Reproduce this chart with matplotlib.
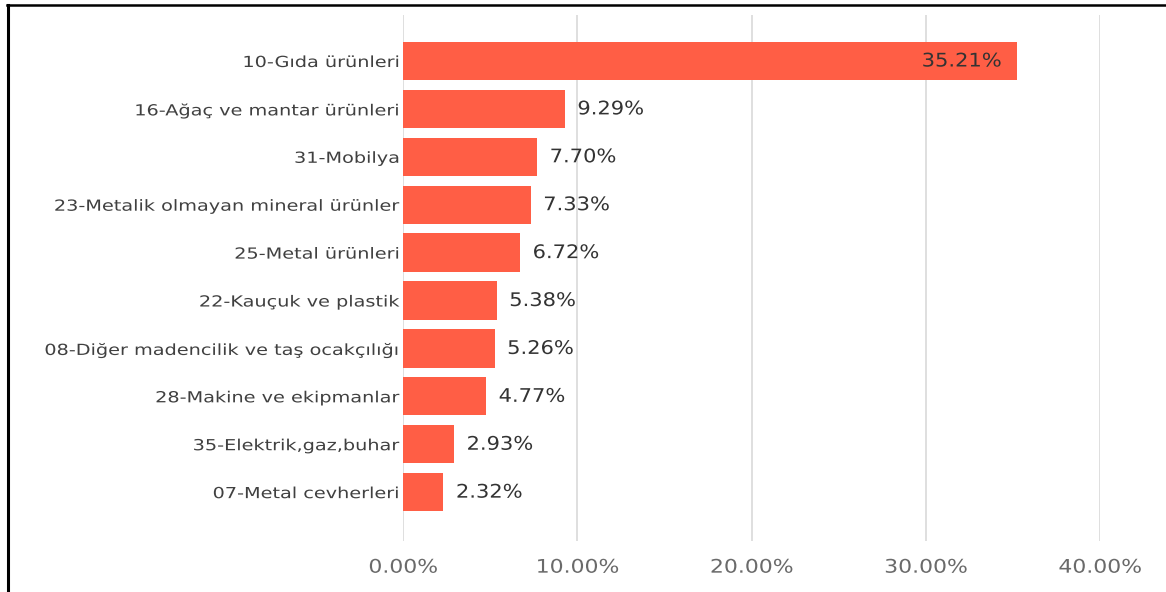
import matplotlib.pyplot as plt
from matplotlib.lines import Line2D
from matplotlib.ticker import FuncFormatter
from matplotlib.patheffects import AbstractPathEffect
from matplotlib.transforms import Affine2D

plt.rcParams['font.family'] = ['DejaVu Sans']

# Sector shares (fraction of total)
categories = ["10-Gıda ürünleri", "16-Ağaç ve mantar ürünleri", "31-Mobilya",
              "23-Metalik olmayan mineral ürünler", "25-Metal ürünleri",
              "22-Kauçuk ve plastik", "08-Diğer madencilik ve taş ocakçılığı",
              "28-Makine ve ekipmanlar", "35-Elektrik,gaz,buhar", "07-Metal cevherleri"]
shares = [0.3521, 0.0929, 0.0770, 0.0733, 0.0672, 0.0538, 0.0526, 0.0477, 0.0293, 0.0232]
x_ticks = [0.0, 0.1, 0.2, 0.3, 0.4]


class StretchX(AbstractPathEffect):
    """Widen text horizontally, keeping the aligned edge in place."""
    def __init__(self, sx, anchor='left'):
        super().__init__()
        self.sx = sx
        self.anchor = anchor

    def draw_path(self, renderer, gc, tpath, affine, rgbFace=None):
        xs = tpath.vertices[:, 0]
        if len(xs) == 0:
            return
        if self.anchor == 'right':
            x0 = xs.max()
        elif self.anchor == 'center':
            x0 = (xs.min() + xs.max()) / 2
        else:
            x0 = 0
        t = Affine2D().translate(-x0, 0).scale(self.sx, 1).translate(x0, 0) + affine
        renderer.draw_path(gc, tpath, t, rgbFace)


W, H = 1166, 592
fig = plt.figure(figsize=(W / 100, H / 100), dpi=100)
ax = fig.add_axes([403 / W, 1 - 541 / H, 697 / W, 526 / H])

ypos = list(range(len(categories)))
ax.barh(ypos, shares, height=0.8, color='#FF5E45', zorder=2)

ax.set_xlim(0, 0.4)
ax.set_ylim(9 + 1.02, -0.96)
ax.set_xticks(x_ticks)
ax.xaxis.set_major_formatter(FuncFormatter(lambda v, p: f"{v * 100:.2f}%"))
ax.set_yticks(ypos)
ax.set_yticklabels(categories, fontsize=11, color='#404040')
ax.tick_params(axis='x', length=0, pad=12, labelsize=13.5, labelcolor='#6A6A6A')
ax.tick_params(axis='y', length=0, pad=2.5)
ax.grid(axis='x', color='#D9D9D9', linewidth=1.2, zorder=0)
for s in ax.spines.values():
    s.set_visible(False)

for lab in ax.get_yticklabels():
    lab.set_path_effects([StretchX(1.26, 'right')])
for lab in ax.get_xticklabels():
    lab.set_path_effects([StretchX(1.17, 'center')])

# value labels
for i, v in enumerate(shares):
    if v > 0.3:
        t = ax.annotate(f"{v * 100:.2f}%", (v, i), xytext=(-11, 0), textcoords='offset points',
                        ha='right', va='center', fontsize=13.5, color='#333333')
        t.set_path_effects([StretchX(1.12, 'right')])
    else:
        t = ax.annotate(f"{v * 100:.2f}%", (v, i), xytext=(9, 0), textcoords='offset points',
                        ha='left', va='center', fontsize=13.5, color='#333333')
        t.set_path_effects([StretchX(1.12, 'left')])

# frame lines (left and top only)
fig.add_artist(Line2D([7.5 / W, 7.5 / W], [0, 1 - 5 / H], transform=fig.transFigure,
                      color='black', linewidth=2.2))
fig.add_artist(Line2D([6.5 / W, 1], [1 - 5 / H, 1 - 5 / H], transform=fig.transFigure,
                      color='black', linewidth=1.8))

fig.savefig("out.png", dpi=100)
